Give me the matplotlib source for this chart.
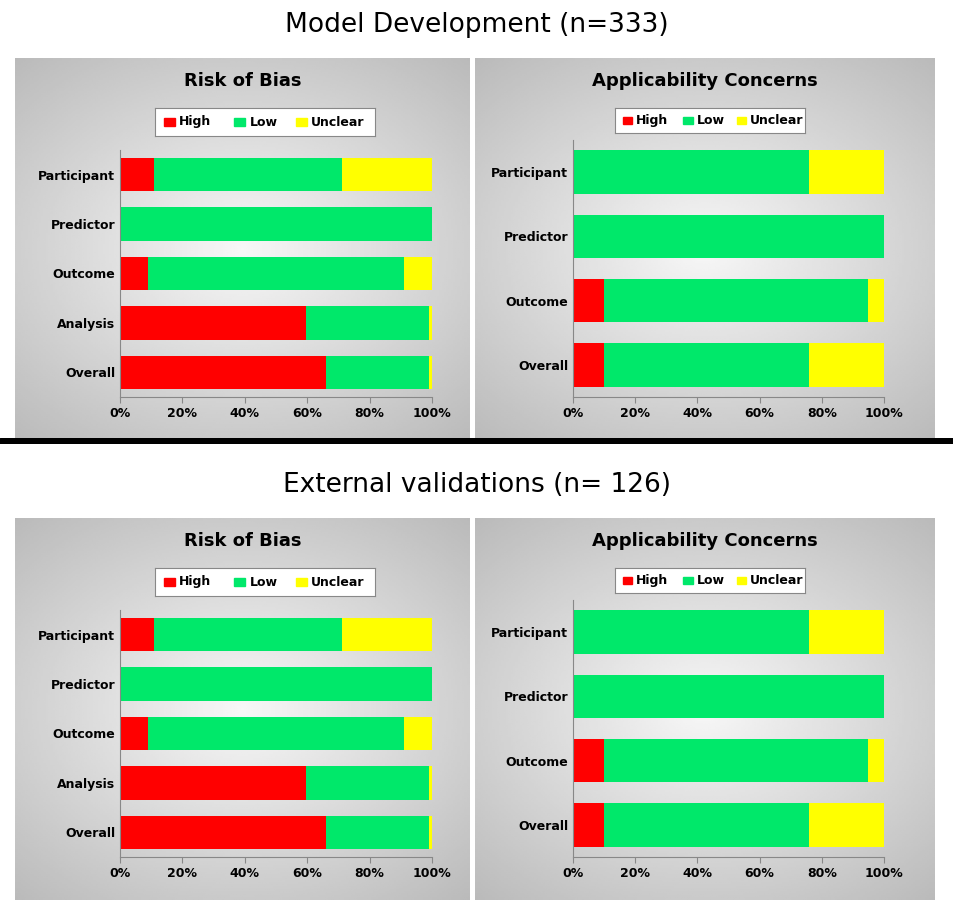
import numpy as np
import matplotlib
matplotlib.use('Agg')
import matplotlib.pyplot as plt
from matplotlib.patches import Rectangle

rob_labels = ['Participant', 'Predictor', 'Outcome', 'Analysis', 'Overall']
rob_high = [11, 0, 9, 59.5, 66]
rob_low = [60, 100, 82, 39.5, 33]
rob_unclear = [29, 0, 9, 1, 1]

app_labels = ['Participant', 'Predictor', 'Outcome', 'Overall']
app_high = [0, 0, 10, 10]
app_low = [76, 100, 85, 66]
app_unclear = [24, 0, 5, 24]

titles = ['Model Development (n=333)', 'External validations (n= 126)']
ticks = [0, 20, 40, 60, 80, 100]
colors = ['#ff0000', '#00e86a', '#ffff00']
W, H = 954, 915

fig = plt.figure(figsize=(W/100, H/100), dpi=100)

def fr(x0, y0, x1, y1):
    return [x0/W, 1-y1/H, (x1-x0)/W, (y1-y0)/H]

yy, xx = np.mgrid[-1:1:200j, -1:1:200j]
grad = 0.97 - 0.25*np.clip(np.sqrt(xx**2*0.8 + yy**2), 0, 1.4)/1.4

def panel(box, axbox, title, labels, hi, lo, un, legbox):
    bg = fig.add_axes(fr(*box))
    bg.imshow(grad, cmap='gray', vmin=0, vmax=1, aspect='auto', extent=[0, 1, 0, 1])
    bg.set_axis_off()
    bg.text(0.5, 0.94, title, ha='center', va='center', fontsize=13, fontweight='bold')
    ax = fig.add_axes(fr(*axbox))
    ax.patch.set_alpha(0)
    y = np.arange(len(labels))
    left = np.zeros(len(labels))
    for vals, c, name in zip([hi, lo, un], colors, ['High', 'Low', 'Unclear']):
        ax.barh(y, vals, left=left, color=c, height=0.68, label=name)
        left += np.array(vals)
    ax.set_ylim(len(labels)-0.5, -0.5)
    ax.set_xlim(0, 100)
    ax.set_yticks(y)
    ax.set_yticklabels(labels, fontsize=9, fontweight='bold')
    ax.set_xticks(ticks)
    ax.set_xticklabels([f'{t}%' for t in ticks], fontsize=9, fontweight='bold')
    for s in ['top', 'right']:
        ax.spines[s].set_visible(False)
    ax.spines['left'].set_color('#888888')
    ax.spines['bottom'].set_color('#888888')
    ax.tick_params(axis='y', length=0)
    ax.tick_params(axis='x', direction='out', length=4, color='#888888')
    lax = fig.add_axes(fr(*legbox))
    lax.set_xlim(0, 1); lax.set_ylim(0, 1)
    lax.set_xticks([]); lax.set_yticks([])
    lax.patch.set_facecolor('white')
    for s in lax.spines.values():
        s.set_color('#888888')
    xs = [0.1, 0.42, 0.7]
    for x, c, name in zip(xs, colors, ['High', 'Low', 'Unclear']):
        lax.add_patch(Rectangle((x-0.06, 0.35), 0.05, 0.3, color=c))
        lax.text(x+0.01, 0.5, name, va='center', fontsize=9, fontweight='bold')

for k, yoff in enumerate([0, 460]):
    fig.text(0.5, 1-(25+yoff)/H, titles[k], ha='center', va='center', fontsize=19)
    panel((15, 58+yoff, 470, 440+yoff), (120, 150+yoff, 432, 397+yoff),
          'Risk of Bias', rob_labels, rob_high, rob_low, rob_unclear,
          (155, 108+yoff, 375, 136+yoff))
    panel((475, 58+yoff, 935, 440+yoff), (573, 140+yoff, 884, 397+yoff),
          'Applicability Concerns', app_labels, app_high, app_low, app_unclear,
          (615, 108+yoff, 805, 133+yoff))

line = fig.add_axes(fr(0, 438, W, 444))
line.set_axis_off()
line.add_patch(Rectangle((0, 0), 1, 1, color='black', transform=line.transAxes))

fig.savefig('out.png', dpi=100)
